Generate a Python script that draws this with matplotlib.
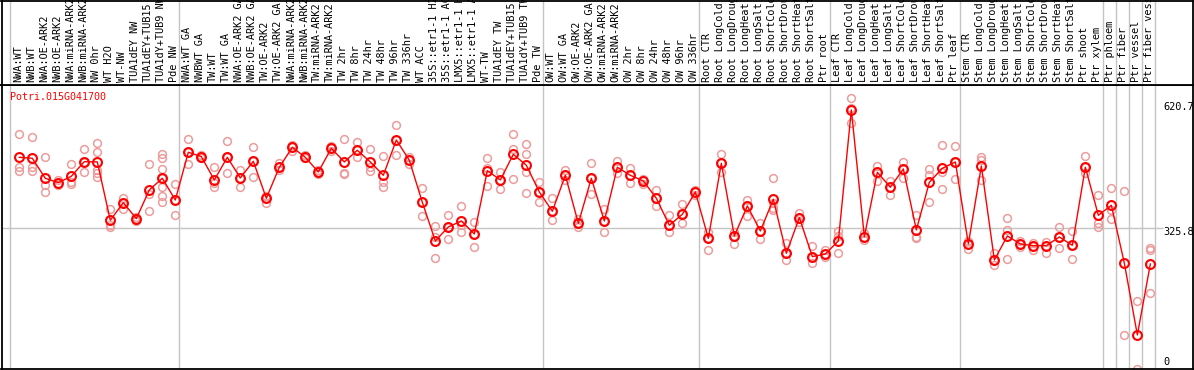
import numpy as np
import matplotlib.pyplot as plt

gene = "Potri.015G041700"

labels = [
    "NWA:WT", "NWB:WT", "NWA:OE-ARK2", "NWB:OE-ARK2", "NWA:miRNA-ARK2", "NWB:miRNA-ARK2",
    "NW 0hr", "WT H2O", "WT-NW", "TUA1dEY NW", "TUA1dEY+TUB15", "TUA1dY+TUB9 NW", "Pde NW",
    "NWA:WT GA", "NWBWT GA", "TW:WT", "TW:WT GA", "NWA:OE-ARK2 GA", "NWB:OE-ARK2 GA",
    "TW:OE-ARK2", "TW:OE-ARK2 GA", "NWA:miRNA-ARK2", "NWB:miRNA-ARK2", "TW:miRNA-ARK2",
    "TW:miRNA-ARK2", "TW 2hr", "TW 8hr", "TW 24hr", "TW 48hr", "TW 96hr", "TW 336hr", "WT ACC",
    "35S::etr1-1 H2O", "35S::etr1-1 ACC", "LMX5::etr1-1 H2O", "LMX5::etr1-1 ACC", "WT-TW",
    "TUA1dEY TW", "TUA1dEY+TUB15 TW", "TUA1dY+TUB9 TW", "Pde TW",
    "OW:WT", "OW:WT GA", "OW:OE-ARK2", "OW:OE-ARK2 GA", "OW:miRNA-ARK2", "OW:miRNA-ARK2",
    "OW 2hr", "OW 8hr", "OW 24hr", "OW 48hr", "OW 96hr", "OW 336hr",
    "Root CTR", "Root LongCold", "Root LongDrought", "Root LongHeat", "Root LongSalt",
    "Root ShortCold", "Root ShortDrought", "Root ShortHeat", "Root ShortSalt", "Ptr root",
    "Leaf CTR", "Leaf LongCold", "Leaf LongDrought", "Leaf LongHeat", "Leaf LongSalt",
    "Leaf ShortCold", "Leaf ShortDrought", "Leaf ShortHeat", "Leaf ShortSalt", "Ptr leaf",
    "Stem CTR", "Stem LongCold", "Stem LongDrought", "Stem LongHeat", "Stem LongSalt",
    "Stem ShortCold", "Stem ShortDrought", "Stem ShortHeat", "Stem ShortSalt", "Ptr shoot",
    "Ptr xylem", "Ptr phloem", "Ptr fiber", "Ptr vessel", "Ptr fiber vessel",
]
group_sizes = [13, 28, 12, 10, 10, 11, 1, 1, 1, 1]

means = [
    488.8, 486.5, 440.4, 430.4, 445.0, 478.8, 478.1, 343.6, 384.3, 347.4, 413.5, 440.4, 390.4,
    500.4, 490.4, 436.6, 488.8, 441.2, 479.6, 394.3, 465.8, 511.9, 488.8, 455.0, 509.6, 478.1,
    505.0, 478.1, 447.3, 528.8, 481.9, 385.1, 295.9, 328.2, 342.0, 312.1, 458.1, 436.6, 495.7,
    470.4, 408.9,
    364.3, 447.3, 336.6, 440.4, 342.0, 465.8, 447.3, 434.3, 394.3, 332.0, 357.4, 408.9,
    302.1, 475.0, 307.4, 376.6, 319.0, 392.0, 267.5, 349.7, 259.8, 265.9,
    295.9, 598.0, 305.9, 454.2, 419.7, 461.9, 321.3, 431.2, 463.5, 478.1,
    289.0, 468.8, 252.1, 307.4, 289.0, 285.1, 285.1, 305.1, 285.9, 465.8, 355.1,
    378.2, 244.4, 79.2, 242.9,
]

replicates = [
    [542.6, 467.3, 456.5], [534.9, 465.8, 458.1], [488.8, 425.8, 408.1], [436.6, 427.3, 425.0],
    [473.5, 432.7, 427.3], [507.3, 478.8, 454.2], [521.1, 501.9, 459.6, 453.5, 442.7],
    [369.7, 332.8, 329.0], [395.8, 384.3, 368.9], [352.0, 347.4, 342.8], [473.5, 404.3, 365.1],
    [496.5, 486.5, 461.2, 440.4, 419.7, 399.7, 385.1], [426.6, 390.4, 355.9],
    [530.3, 500.4, 473.5], [493.4, 490.4, 487.3], [465.8, 429.0, 421.2], [526.5, 488.8, 451.9],
    [459.6, 441.2, 421.2], [511.9, 479.6, 444.3], [399.7, 394.3, 384.3], [476.5, 465.8, 459.6],
    [517.3, 511.9, 504.2], [494.2, 488.8, 486.5], [459.6, 455.0, 450.4], [515.0, 509.6, 504.2],
    [530.3, 453.5, 450.4], [523.4, 505.0, 490.4], [507.3, 467.3, 458.1], [491.9, 432.7, 421.2],
    [563.4, 528.8, 494.2], [490.4, 481.9, 473.5], [417.3, 385.1, 353.6], [330.5, 305.9, 255.9],
    [355.9, 328.2, 300.5], [376.6, 332.8, 315.9], [339.0, 312.1, 282.8], [486.5, 463.5, 423.5],
    [455.8, 436.6, 415.0], [542.6, 507.3, 438.1], [519.6, 495.7, 455.8, 405.8],
    [431.2, 408.9, 385.1],
    [395.8, 364.3, 344.3], [459.6, 447.3, 436.6], [345.9, 336.6, 327.4], [475.0, 440.4, 404.3],
    [368.9, 342.0, 315.9], [480.4, 465.8, 451.9], [463.5, 447.3, 428.9], [438.1, 436.6, 426.6],
    [413.5, 394.3, 377.4], [355.9, 332.0, 315.9], [380.5, 357.4, 336.6], [413.5, 408.9, 402.0],
    [317.4, 302.1, 275.2], [495.7, 475.0, 455.8], [317.4, 307.4, 289.0], [390.4, 376.6, 353.6],
    [336.6, 319.0, 300.5], [440.4, 384.3, 372.8, 367.4], [290.5, 267.5, 252.1],
    [361.2, 349.7, 340.5], [284.4, 259.8, 245.9], [275.2, 265.9, 259.8],
    [319.7, 307.4, 267.5], [624.9, 601.8, 567.2], [315.1, 305.9, 298.2], [468.8, 453.5, 435.0],
    [435.0, 419.7, 401.2], [478.8, 461.9, 440.4], [355.1, 305.9, 302.1], [461.9, 448.1, 385.1],
    [517.3, 455.8, 415.0], [515.0, 478.1, 438.1],
    [296.7, 289.0, 277.5], [490.4, 482.7, 436.6], [267.5, 252.1, 240.6], [348.2, 321.3, 253.6],
    [296.7, 289.0, 282.8], [292.1, 285.1, 275.2], [294.4, 285.1, 269.0], [327.4, 305.1, 279.0],
    [319.7, 285.9, 253.6], [491.9, 465.8, 451.9], [401.2, 336.6, 329.0],
    [417.3, 367.4, 345.9], [411.2, 78.4], [157.6, 0.0], [279.0, 275.2, 176.8],
]

axis_marks = [620.7, 325.8, 0]

n = len(labels)
x = np.arange(n)
W, H = 1194, 370
mono = "DejaVu Sans Mono"
grey = "#c4c4c4"

fig = plt.figure(figsize=(W / 100, H / 100), dpi=100)
ax = fig.add_axes([1.5 / W, 0.7 / H, 1191.5 / W, 284.3 / H])
hx = fig.add_axes([1.5 / W, (H - 85) / H, 1191.5 / W, 84.5 / H], sharex=ax)

ax.set_xlim(-1.37, 90.28)
ax.set_ylim(0, 655.5)
hx.set_ylim(0, 1)
for a in (ax, hx):
    a.set_xticks([])
    a.set_yticks([])
    for s in a.spines.values():
        s.set_color("black")
        s.set_linewidth(1.3)

# group separators
bounds = np.concatenate([[0], np.cumsum(group_sizes)]) - 0.68
for b in bounds:
    ax.axvline(b, color=grey, lw=1, zorder=0)
    hx.axvline(b, color=grey, lw=1, zorder=0)

ax.hlines(axis_marks[1], -1.5, n - 0.05, color=grey, lw=1, zorder=0)

# replicates
rx = [i for i, r in enumerate(replicates) for _ in r]
ry = [v for r in replicates for v in r]
ax.plot(rx, ry, "o", mfc="none", mec="#ec9c9c", ms=5.6, mew=1.1, zorder=2)

# means
ax.plot(x, means, "-", color="red", lw=1, zorder=3)
ax.plot(x, means, "o", mfc="none", mec="red", ms=6.4, mew=1.5, zorder=4)

ax.annotate(gene, xy=(0, 1), xycoords="axes fraction", xytext=(8.5, -12),
            textcoords="offset pixels", color="red", family=mono, fontsize=7.2,
            va="center", ha="left")

# right value labels
offsets = {620.7: (-2, "top"), 325.8: (1, "top"), 0: (4, "baseline")}
for v in axis_marks:
    dy, va = offsets[v]
    ax.annotate(f"{v:g}", xy=(n, v), xytext=(0, dy), textcoords="offset pixels",
                family=mono, fontsize=7.4, ha="left", va=va, color="black")

# column labels
trans = hx.get_xaxis_transform()
for i, lab in enumerate(labels):
    hx.annotate(lab, xy=(i - 0.12, 0), xycoords=trans, xytext=(0, 3),
                textcoords="offset pixels", rotation=90, ha="center", va="bottom",
                family=mono, fontsize=7.4, annotation_clip=False)

fig.savefig("out.png", dpi=100)
